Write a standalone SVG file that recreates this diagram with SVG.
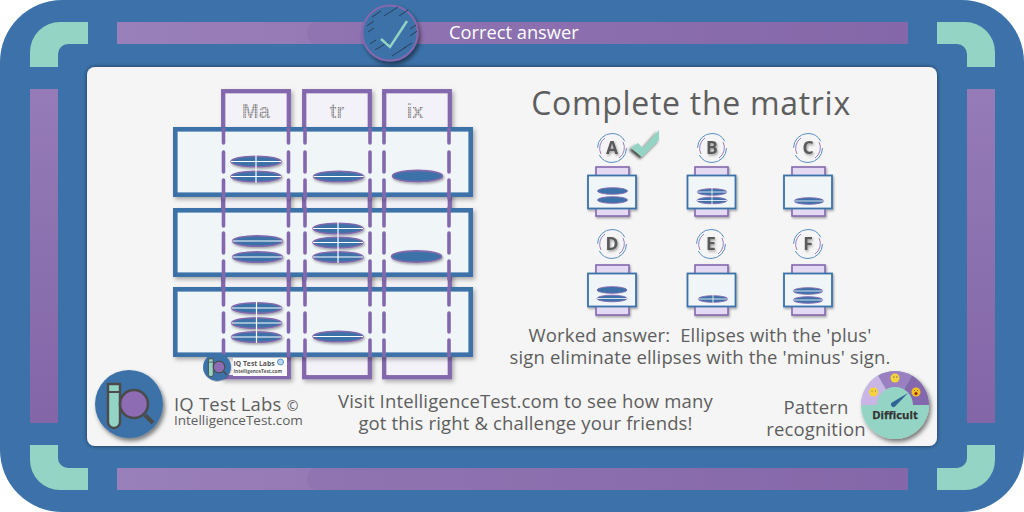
<svg xmlns="http://www.w3.org/2000/svg" width="1024" height="512" viewBox="0 0 1024 512">
<style>
text{font-family:"Open Sans","Noto Sans","Liberation Sans",sans-serif;fill:#5e5e5e}
.bar{fill:url(#barG)}
.ov{fill:#8467a9;opacity:.3}
.tl{fill:#93d4c4}
.col{fill:#f4f2f9;stroke:#8468ae;stroke-width:4.3}
.row{fill:#f0f5f8;stroke:#3c72a9;stroke-width:4.6}
.dash{stroke:#8468ae;stroke-width:3.6;stroke-linecap:round;fill:none}
.el{fill:#3c72a9;stroke:#8468ae;stroke-width:1.6}
.wl{stroke:#fff;stroke-width:1.2;fill:none}
.optP{fill:#e4d9f3;stroke:#8468ae;stroke-width:1.6}
.optB{fill:#f0f5f8;stroke:#3c72a9;stroke-width:1.8}
.oel{fill:#3c72a9;stroke:#8468ae;stroke-width:.9}
.wo{stroke:#fff;stroke-width:.8;fill:none}
.ra{fill:none;stroke:#5b8fc4;stroke-width:1}
.rb{fill:none;stroke:#9a80c0;stroke-width:1}
.lab{font-size:17.500px;font-weight:700;text-anchor:middle;fill:#5a5a5a}
.dot{font-family:"Liberation Sans","DejaVu Sans",sans-serif;font-weight:700;font-size:20px;fill:url(#dots);text-anchor:middle}
.body{font-size:18.500px;letter-spacing:.15px;text-anchor:middle}
</style>
<defs>
<linearGradient id="barG" x1="0" y1="0" x2="1" y2="0"><stop offset="0" stop-color="#9a80ba"/><stop offset="1" stop-color="#8568a9"/></linearGradient>
<linearGradient id="barV" x1="0" y1="0" x2="0" y2="1"><stop offset="0" stop-color="#957bb7"/><stop offset="1" stop-color="#8266a8"/></linearGradient>
<pattern id="dots" width="1.7" height="1.7" patternUnits="userSpaceOnUse"><rect width="1.7" height="1.7" fill="#e2e2e6"/><rect width="1.1" height="1.1" fill="#6a6a6a"/></pattern>
<filter id="sh" x="-20%" y="-20%" width="140%" height="140%"><feDropShadow dx="2" dy="2.500" stdDeviation="2" flood-color="#000" flood-opacity=".3"/></filter>
<filter id="sh2" x="-30%" y="-30%" width="160%" height="160%"><feDropShadow dx="1" dy="1.500" stdDeviation="1" flood-color="#000" flood-opacity=".35"/></filter>
<filter id="sh3" x="-30%" y="-30%" width="160%" height="160%"><feDropShadow dx="2" dy="3" stdDeviation="2.200" flood-color="#000" flood-opacity=".5"/></filter>
<filter id="sh4" x="-50%" y="-50%" width="200%" height="200%"><feDropShadow dx="-2" dy="2" stdDeviation="1.500" flood-color="#000" flood-opacity=".75"/></filter>
<filter id="ps" x="-5%" y="-5%" width="110%" height="110%"><feDropShadow dx="0" dy="0" stdDeviation="2" flood-color="#000" flood-opacity=".55"/></filter>
<g id="logo">
<circle cx="0" cy="0" r="34" fill="#3c72a9"/>
<path d="M-21-20h12v38a6 6 0 0 1-12 0z" fill="#93d4c4" stroke="#4b4b4b" stroke-width="2.400"/>
<path d="M-21-12h12" stroke="#4b4b4b" stroke-width="2"/>
<path d="M16 11L24 19" stroke="#4b4b4b" stroke-width="4"/>
<circle cx="5" cy="0" r="14" fill="#8d6cb3" stroke="#4b4b4b" stroke-width="2.600"/>
</g>
<g id="ring"><circle class="ra" r="14.500" stroke-dasharray="38 7.500"/><path class="rb" d="M-11 6A12.500 12.500 0 0 1-7-10M11-6A12.500 12.500 0 0 1 7 10"/></g>
</defs>
<rect id="frame" width="1024" height="512" rx="62" fill="#3c72a9"/>
<g id="decor">
<rect class="bar" x="117" y="22" width="791" height="22"/><rect class="ov" x="307" y="22" width="601" height="22" rx="10"/>
<rect class="bar" x="117" y="468" width="791" height="22"/><rect class="ov" x="307" y="468" width="601" height="22" rx="10"/>
<rect x="30" y="89" width="28" height="334" fill="url(#barV)"/>
<rect x="967" y="89" width="28" height="334" fill="url(#barV)"/>
<path class="tl" d="M30 67V52A30 30 0 0 1 60 22H88V44H68A10 10 0 0 0 58 54V67Z"/>
<path class="tl" d="M995 67V52A30 30 0 0 0 965 22H937V44H957A10 10 0 0 1 967 54V67Z"/>
<path class="tl" d="M30 445V460A30 30 0 0 0 60 490H88V468H68A10 10 0 0 1 58 458V445Z"/>
<path class="tl" d="M995 445V460A30 30 0 0 1 965 490H937V468H957A10 10 0 0 0 967 458V445Z"/>
</g>
<rect id="panel" x="87" y="67" width="850" height="379" rx="8" fill="#f5f5f5" filter="url(#ps)"/>
<g id="header">
<circle cx="390" cy="33" r="27.500" fill="#3c72a9" stroke="#8468ae" stroke-width="2" filter="url(#sh3)"/>
<path d="M372 17l9-6M384 16l14-9M399 16l9-6M367 26l7-5M368 32l6-4M410 29l6-4M410 36l7-5M370 44l6-4M375 50l13-8M392 56l14-9M404 48l8-5" stroke="#26384f" stroke-width=".9" fill="none"/>
<path d="M381 39l9 8 17-26" fill="none" stroke="#93d4c4" stroke-width="2.400"/>
<text x="449" y="39" font-size="18.300" style="fill:#fff">Correct answer</text>
</g>
<text id="title" x="691" y="115" font-size="32" text-anchor="middle" letter-spacing=".7">Complete the matrix</text>
<g id="matrix">
<g id="columns" filter="url(#sh)">
<rect class="col" x="223.200" y="91.200" width="65.600" height="286"/>
<rect class="col" x="304.200" y="91.200" width="65.600" height="286"/>
<rect class="col" x="384.200" y="91.200" width="65.600" height="286"/>
</g>
<text class="dot" x="256" y="118">Ma</text>
<text class="dot" x="337" y="118">tr</text>
<text class="dot" x="415" y="118">ix</text>
<g id="rows">
<rect class="row" x="175.300" y="129.300" width="295.400" height="65.400" filter="url(#sh)"/>
<rect class="row" x="175.300" y="210.300" width="295.400" height="64.400" filter="url(#sh)"/>
<rect class="row" x="175.300" y="289.300" width="295.400" height="65.400" filter="url(#sh)"/>
</g>
<g id="connectors">
<path class="dash" d="M223.500 129V143M223.500 152V172M223.500 180V198M223.500 208V226M223.500 233V253M223.500 261V279M223.500 288V305M223.500 313V332M223.500 340V356"/>
<path class="dash" d="M288.500 129V143M288.500 152V172M288.500 180V198M288.500 208V226M288.500 233V253M288.500 261V279M288.500 288V305M288.500 313V332M288.500 340V356"/>
<path class="dash" d="M305 129V143M305 152V172M305 180V198M305 208V226M305 233V253M305 261V279M305 288V305M305 313V332M305 340V356"/>
<path class="dash" d="M370 129V143M370 152V172M370 180V198M370 208V226M370 233V253M370 261V279M370 288V305M370 313V332M370 340V356"/>
<path class="dash" d="M384 129V143M384 152V172M384 180V198M384 208V226M384 233V253M384 261V279M384 288V305M384 313V332M384 340V356"/>
<path class="dash" d="M449 129V143M449 152V172M449 180V198M449 208V226M449 233V253M449 261V279M449 288V305M449 313V332M449 340V356"/>
</g>
<g id="ellipses">
<g filter="url(#sh2)">
<ellipse class="el" cx="256" cy="161.500" rx="25" ry="5.300"/><ellipse class="el" cx="256" cy="176.500" rx="25" ry="5.300"/>
<ellipse class="el" cx="338.500" cy="176.500" rx="25" ry="5.300"/><ellipse class="el" cx="417.500" cy="176" rx="25" ry="5.600"/>
<ellipse class="el" cx="257.500" cy="241" rx="25" ry="5.300"/><ellipse class="el" cx="257.500" cy="257" rx="25" ry="5.300"/>
<ellipse class="el" cx="338" cy="228.500" rx="25" ry="5.300"/><ellipse class="el" cx="338" cy="242.500" rx="25" ry="5.300"/><ellipse class="el" cx="338" cy="257" rx="25" ry="5.300"/>
<ellipse class="el" cx="416.500" cy="256.500" rx="25" ry="5.600"/>
<ellipse class="el" cx="256.500" cy="308" rx="25" ry="5.300"/><ellipse class="el" cx="256.500" cy="323" rx="25" ry="5.300"/><ellipse class="el" cx="256.500" cy="337" rx="25" ry="5.300"/>
<ellipse class="el" cx="338" cy="336.500" rx="25" ry="5.300"/>
</g>
<path class="wl" d="M231 161.500H281M231 176.500H281M256 155V183M313.500 176.500H363.500M232.500 241H282.500M232.500 257H282.500M313 228.500H363M313 242.500H363M313 257H363M338 222V263M231.500 308H281.500M231.500 323H281.500M231.500 337H281.500M256.500 302V343M313 336.500H363"/>
</g>
</g>
<g id="stamp">
<rect x="233" y="358" width="54" height="18" fill="#fff"/>
<use href="#logo" transform="translate(217 367) scale(.41)" filter="url(#sh2)"/>
<text x="233.500" y="366" font-size="6.800" font-weight="700" style="fill:#555">IQ Test Labs</text>
<text x="233.500" y="372.500" font-size="4.700" font-weight="700" style="fill:#555">IntelligenceTest.com</text>
<circle cx="280.500" cy="362" r="3" fill="#bcd5ee" stroke="#5b8fc4"/>
</g>
<g id="option-A">
<use href="#ring" transform="translate(612 148)"/><text class="lab" x="612" y="154" filter="url(#sh2)">A</text>
<g filter="url(#sh2)"><rect class="optP" x="596" y="167" width="33" height="49"/><rect class="optB" x="588" y="175.500" width="48" height="33"/></g>
<ellipse class="oel" cx="612.500" cy="191" rx="15" ry="3.300"/><ellipse class="oel" cx="612.500" cy="200" rx="15" ry="3.300"/>
<path d="M631 148L638 143L643 148L659 130V140L642 157Z" fill="#93d4c4" filter="url(#sh4)"/>
</g>
<g id="option-B">
<use href="#ring" transform="translate(712 148)"/><text class="lab" x="712" y="154" filter="url(#sh2)">B</text>
<g filter="url(#sh2)"><rect class="optP" x="695" y="167" width="33" height="49"/><rect class="optB" x="687.500" y="175.500" width="48" height="33"/></g>
<ellipse class="oel" cx="712" cy="192" rx="15" ry="3.300"/><ellipse class="oel" cx="712" cy="200.500" rx="15" ry="3.300"/>
<path class="wo" d="M697 192H727M697 200.500H727M712 188V205"/>
</g>
<g id="option-C">
<use href="#ring" transform="translate(808 148)"/><text class="lab" x="808" y="154" filter="url(#sh2)">C</text>
<g filter="url(#sh2)"><rect class="optP" x="792" y="167" width="33" height="49"/><rect class="optB" x="784" y="175.500" width="48" height="33"/></g>
<ellipse class="oel" cx="809" cy="201" rx="15" ry="3.300"/><path class="wo" d="M794 201H824"/>
</g>
<g id="option-D">
<use href="#ring" transform="translate(612 244)"/><text class="lab" x="612" y="250" filter="url(#sh2)">D</text>
<g filter="url(#sh2)"><rect class="optP" x="596" y="265" width="33" height="50"/><rect class="optB" x="588" y="273.500" width="48" height="33"/></g>
<ellipse class="oel" cx="612" cy="290" rx="15" ry="3.300"/><ellipse class="oel" cx="612" cy="298.500" rx="15" ry="3.300"/><path class="wo" d="M597 298.500H627"/>
</g>
<g id="option-E">
<use href="#ring" transform="translate(711 244)"/><text class="lab" x="711" y="250" filter="url(#sh2)">E</text>
<g filter="url(#sh2)"><rect class="optP" x="695" y="265" width="33" height="50"/><rect class="optB" x="687.500" y="273.500" width="48" height="33"/></g>
<ellipse class="oel" cx="713" cy="299" rx="15" ry="3.300"/><path class="wo" d="M698 299H728M713 295V303"/>
</g>
<g id="option-F">
<use href="#ring" transform="translate(808 244)"/><text class="lab" x="808" y="250" filter="url(#sh2)">F</text>
<g filter="url(#sh2)"><rect class="optP" x="792" y="265" width="33" height="50"/><rect class="optB" x="784" y="273.500" width="48" height="33"/></g>
<ellipse class="oel" cx="808" cy="291" rx="15" ry="3.300"/><ellipse class="oel" cx="808" cy="300" rx="15" ry="3.300"/><path class="wo" d="M793 291H823M793 300H823"/>
</g>
<g id="texts">
<text class="body" x="700" y="342" xml:space="preserve">Worked answer:  Ellipses with the 'plus'</text>
<text class="body" x="700" y="364">sign eliminate ellipses with the 'minus' sign.</text>
<text class="body" x="525.500" y="408">Visit IntelligenceTest.com to see how many</text>
<text class="body" x="525.500" y="430">got this right &amp; challenge your friends!</text>
<text class="body" x="816" y="414">Pattern</text>
<text class="body" x="816" y="436">recognition</text>
</g>
<g id="brand">
<use href="#logo" transform="translate(129 404)" filter="url(#sh3)"/>
<text x="174" y="410.500" font-size="18.500" letter-spacing=".2">IQ Test Labs <tspan font-size="14">©</tspan></text>
<text x="174" y="425" font-size="13.500">IntelligenceTest.com</text>
</g>
<g id="gauge" filter="url(#sh3)">
<circle cx="895" cy="405" r="34" fill="#93d4c4"/>
<path d="M861 405A34 34 0 0 1 878 375.600L895 405Z" fill="#c9b6e4"/>
<path d="M878 375.600A34 34 0 0 1 912 375.600L895 405Z" fill="#9a80c0"/>
<path d="M912 375.600A34 34 0 0 1 929 405H895Z" fill="#8468ae"/>
<path d="M877 405A18 18 0 0 1 913 405Z" fill="#93d4c4"/>
</g>
<g id="gaugeParts">
<circle cx="873.500" cy="392" r="4.500" fill="#f5d33d"/><circle cx="895" cy="378" r="4.500" fill="#f5d33d"/><circle cx="916" cy="392" r="4.500" fill="#f5c21d"/>
<circle cx="916" cy="393.500" r="1.500" fill="#8a2020"/><path d="M871.500 391h1M875 391h1M893 377h1.500M896 377h1.500M914 390.500h1M917 390.500h1" stroke="#555" stroke-width=".8"/>
<path d="M892 402.500L908 393L895 406.500A2.500 2.500 0 0 1 892 402.500Z" fill="#2e6496"/>
<text x="895" y="419" font-size="11.300" font-weight="700" text-anchor="middle" style="fill:#333" stroke="#333" stroke-width=".25">Difficult</text>
</g>
</svg>
